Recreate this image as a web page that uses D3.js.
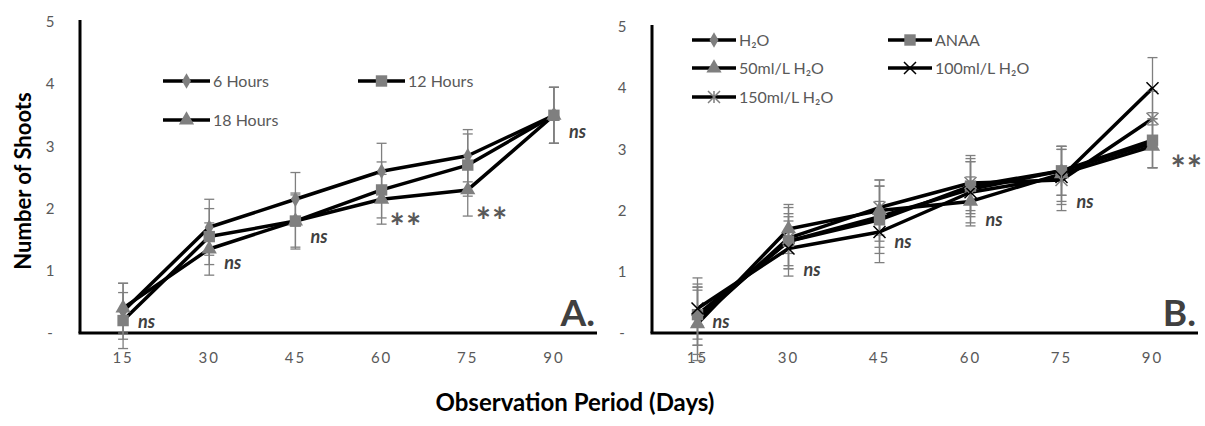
<!DOCTYPE html>
<html>
<head>
<meta charset="utf-8">
<script src="https://cdn.jsdelivr.net/npm/d3@7"></script>
<style>
  body { margin: 0; background: #fff; }
  text { font-family: Lato, "Open Sans", sans-serif; }
</style>
</head>
<body>
<svg id="chart" width="1205" height="426"></svg>
<script>
// observation days and y ticks
var days = ["15", "30", "45", "60", "75", "90"];
var yTicks = [0, 1, 2, 3, 4, 5];
var yTickLabels = ["-", "1", "2", "3", "4", "5"];

// panel A: photoperiod
var seriesA = ["6 Hours", "12 Hours", "18 Hours"];
var hours6 = [0.35, 1.7, 2.15, 2.6, 2.85, 3.5];
var hours6Err = [0.45, 0.45, 0.43, 0.45, 0.42, 0.45];
var hours12 = [0.2, 1.55, 1.8, 2.3, 2.7, 3.5];
var hours12Err = [0.45, 0.45, 0.45, 0.45, 0.5, 0.45];
var hours18 = [0.4, 1.35, 1.8, 2.15, 2.3, 3.5];
var hours18Err = [0.4, 0.42, 0.42, 0.4, 0.42, 0.45];
var notesA = ["ns", "ns", "ns", "**", "**", "ns"];
var notesAY = [0.18, 1.12, 1.54, 1.85, 1.95, 3.23];

// panel B: treatments
var seriesB = ["H\u2082O", "ANAA", "50ml/L H\u2082O", "100ml/L H\u2082O", "150ml/L H\u2082O"];
var water = [0.25, 1.5, 1.9, 2.35, 2.65, 3.1];
var waterErr = [0.45, 0.4, 0.5, 0.45, 0.4, 0.4];
var anaa = [0.3, 1.5, 1.85, 2.4, 2.65, 3.15];
var anaaErr = [0.5, 0.45, 0.55, 0.45, 0.4, 0.45];
var ml50 = [0.15, 1.7, 2.0, 2.15, 2.6, 3.05];
var ml50Err = [0.6, 0.4, 0.5, 0.4, 0.45, 0.35];
var ml100 = [0.4, 1.38, 1.65, 2.3, 2.55, 4.0];
var ml100Err = [0.5, 0.45, 0.5, 0.5, 0.45, 0.5];
var ml150 = [0.2, 1.55, 2.05, 2.45, 2.5, 3.5];
var ml150Err = [0.55, 0.5, 0.45, 0.45, 0.5, 0.45];
var notesB = ["ns", "ns", "ns", "ns", "ns", "**"];
var notesBY = [0.18, 1.03, 1.48, 1.84, 2.14, 2.82];

var GREY = "#7f7f7f";
var TEXT = "#595959";

var svg = d3.select("#chart");

// custom marker shapes
var starPath = function(s) {
  var r = s / 2;
  return "M" + (-r) + "," + (-r) + "L" + r + "," + r +
    "M" + (-r) + "," + r + "L" + r + "," + (-r) +
    "M0," + (-r) + "L0," + r;
};
var crossPath = function(s) {
  var r = s / 2;
  return "M" + (-r) + "," + (-r) + "L" + r + "," + r +
    "M" + (-r) + "," + r + "L" + r + "," + (-r);
};

function drawMarker(g, kind, x, y) {
  if (kind === "diamond") {
    g.append("path").attr("d", d3.symbol(d3.symbolDiamond, 70)())
      .attr("transform", "translate(" + x + "," + y + ")").attr("fill", GREY);
  } else if (kind === "square") {
    g.append("path").attr("d", d3.symbol(d3.symbolSquare, 130)())
      .attr("transform", "translate(" + x + "," + y + ")").attr("fill", GREY);
  } else if (kind === "triangle") {
    g.append("path").attr("d", d3.symbol(d3.symbolTriangle, 100)())
      .attr("transform", "translate(" + x + "," + y + ")").attr("fill", GREY);
  } else if (kind === "cross") {
    g.append("path").attr("d", crossPath(12))
      .attr("transform", "translate(" + x + "," + y + ")")
      .attr("stroke", "#000").attr("stroke-width", 1.5).attr("fill", "none");
  } else if (kind === "star") {
    g.append("path").attr("d", starPath(12))
      .attr("transform", "translate(" + x + "," + y + ")")
      .attr("stroke", GREY).attr("stroke-width", 1.5).attr("fill", "none");
  }
}

function panel(opts) {
  var x = d3.scaleBand().domain(days).range([opts.left, opts.right]);
  var y = d3.scaleLinear().domain([0, 5]).range([opts.bottom, opts.top]);
  var g = svg.append("g");

  // y tick labels
  g.selectAll(".ytick").data(yTicks).enter().append("text")
    .attr("x", opts.left - 30)
    .attr("y", function(d) { return y(d); })
    .attr("dy", "0.35em")
    .attr("text-anchor", "middle")
    .attr("font-size", 15)
    .attr("fill", TEXT)
    .text(function(d, i) { return yTickLabels[i]; });

  // x tick labels
  g.selectAll(".xtick").data(days).enter().append("text")
    .attr("x", function(d) { return x(d) + x.bandwidth() / 2; })
    .attr("y", opts.bottom + 30)
    .attr("text-anchor", "middle")
    .attr("font-size", 15)
    .attr("letter-spacing", "2px")
    .attr("fill", TEXT)
    .text(function(d) { return d; });

  // axes lines
  g.append("line").attr("x1", opts.left).attr("x2", opts.left)
    .attr("y1", opts.top - 2).attr("y2", opts.bottom)
    .attr("stroke", "#000").attr("stroke-width", 3);
  g.append("line").attr("x1", opts.left - 1.5).attr("x2", opts.right)
    .attr("y1", opts.bottom).attr("y2", opts.bottom)
    .attr("stroke", "#000").attr("stroke-width", 3);

  var cx = function(i) { return x(days[i]) + x.bandwidth() / 2; };
  var line = d3.line()
    .x(function(d, i) { return cx(i); })
    .y(function(d) { return y(d); });

  // lines
  opts.series.forEach(function(s) {
    g.append("path").datum(s.values)
      .attr("d", line)
      .attr("fill", "none")
      .attr("stroke", "#000")
      .attr("stroke-width", 3.5)
      .attr("stroke-linejoin", "round");
  });

  // error bars
  opts.series.forEach(function(s) {
    s.values.forEach(function(v, i) {
      var xi = cx(i), top = y(v + s.err[i]), bot = y(v - s.err[i]);
      g.append("line").attr("x1", xi).attr("x2", xi).attr("y1", top).attr("y2", bot)
        .attr("stroke", GREY).attr("stroke-width", 1.3);
      [top, bot].forEach(function(yy) {
        g.append("line").attr("x1", xi - 5).attr("x2", xi + 5).attr("y1", yy).attr("y2", yy)
          .attr("stroke", GREY).attr("stroke-width", 1.3);
      });
    });
  });

  // markers
  opts.series.forEach(function(s) {
    s.values.forEach(function(v, i) { drawMarker(g, s.marker, cx(i), y(v)); });
  });

  // significance notes
  opts.notes.forEach(function(n, i) {
    var star = n === "**";
    g.append("text")
      .attr("x", cx(i) + (star ? opts.starDx : 15))
      .attr("y", y(opts.notesY[i]) + (star ? 22 : 6))
      .attr("font-family", star ? "'DejaVu Sans', sans-serif" : null)
      .attr("font-size", star ? 36 : 18)
      .attr("font-weight", "bold")
      .attr("font-style", star ? "normal" : "italic")
      .attr("fill", star ? TEXT : "#404040")
      .attr("letter-spacing", star ? "1px" : "0px")
      .text(n);
  });

  // panel letter
  g.append("text")
    .attr("x", opts.right - 2)
    .attr("y", opts.bottom - 7)
    .attr("text-anchor", "end")
    .attr("font-size", 37)
    .attr("font-weight", "bold")
    .attr("fill", "#404040")
    .text(opts.letter);

  // legend
  opts.series.forEach(function(s, i) {
    var pos = opts.legendPos[i];
    var lg = g.append("g");
    lg.append("line").attr("x1", pos[0]).attr("x2", pos[0] + opts.legendLen)
      .attr("y1", pos[1]).attr("y2", pos[1])
      .attr("stroke", "#000").attr("stroke-width", 3.5);
    drawMarker(lg, s.marker, pos[0] + opts.legendLen / 2, pos[1]);
    lg.append("text")
      .attr("x", pos[0] + opts.legendLen + 3)
      .attr("y", pos[1])
      .attr("dy", "0.35em")
      .attr("font-size", 16)
      .attr("fill", TEXT)
      .text(s.name);
  });
}

panel({
  left: 80, right: 597, top: 22, bottom: 333, letter: "A.", starDx: 8,
  series: [
    { name: seriesA[0], values: hours6, err: hours6Err, marker: "diamond" },
    { name: seriesA[1], values: hours12, err: hours12Err, marker: "square" },
    { name: seriesA[2], values: hours18, err: hours18Err, marker: "triangle" }
  ],
  notes: notesA, notesY: notesAY,
  legendPos: [[163, 81], [358, 81], [163, 120]], legendLen: 47
});

panel({
  left: 652, right: 1198, top: 27, bottom: 333, letter: "B.", starDx: 18,
  series: [
    { name: seriesB[0], values: water, err: waterErr, marker: "diamond" },
    { name: seriesB[1], values: anaa, err: anaaErr, marker: "square" },
    { name: seriesB[2], values: ml50, err: ml50Err, marker: "triangle" },
    { name: seriesB[3], values: ml100, err: ml100Err, marker: "cross" },
    { name: seriesB[4], values: ml150, err: ml150Err, marker: "star" }
  ],
  notes: notesB, notesY: notesBY,
  legendPos: [[692, 40], [888, 40], [692, 68], [888, 68], [692, 97]], legendLen: 44
});

// shared axis titles
svg.append("text")
  .attr("transform", "translate(31,181) rotate(-90)")
  .attr("text-anchor", "middle")
  .attr("font-size", 22)
  .attr("font-weight", "bold")
  .attr("fill", "#000")
  .text("Number of Shoots");

svg.append("text")
  .attr("x", 575)
  .attr("y", 411)
  .attr("text-anchor", "middle")
  .attr("font-size", 24)
  .attr("font-weight", "bold")
  .attr("fill", "#000")
  .text("Observation Period (Days)");
</script>
</body>
</html>
